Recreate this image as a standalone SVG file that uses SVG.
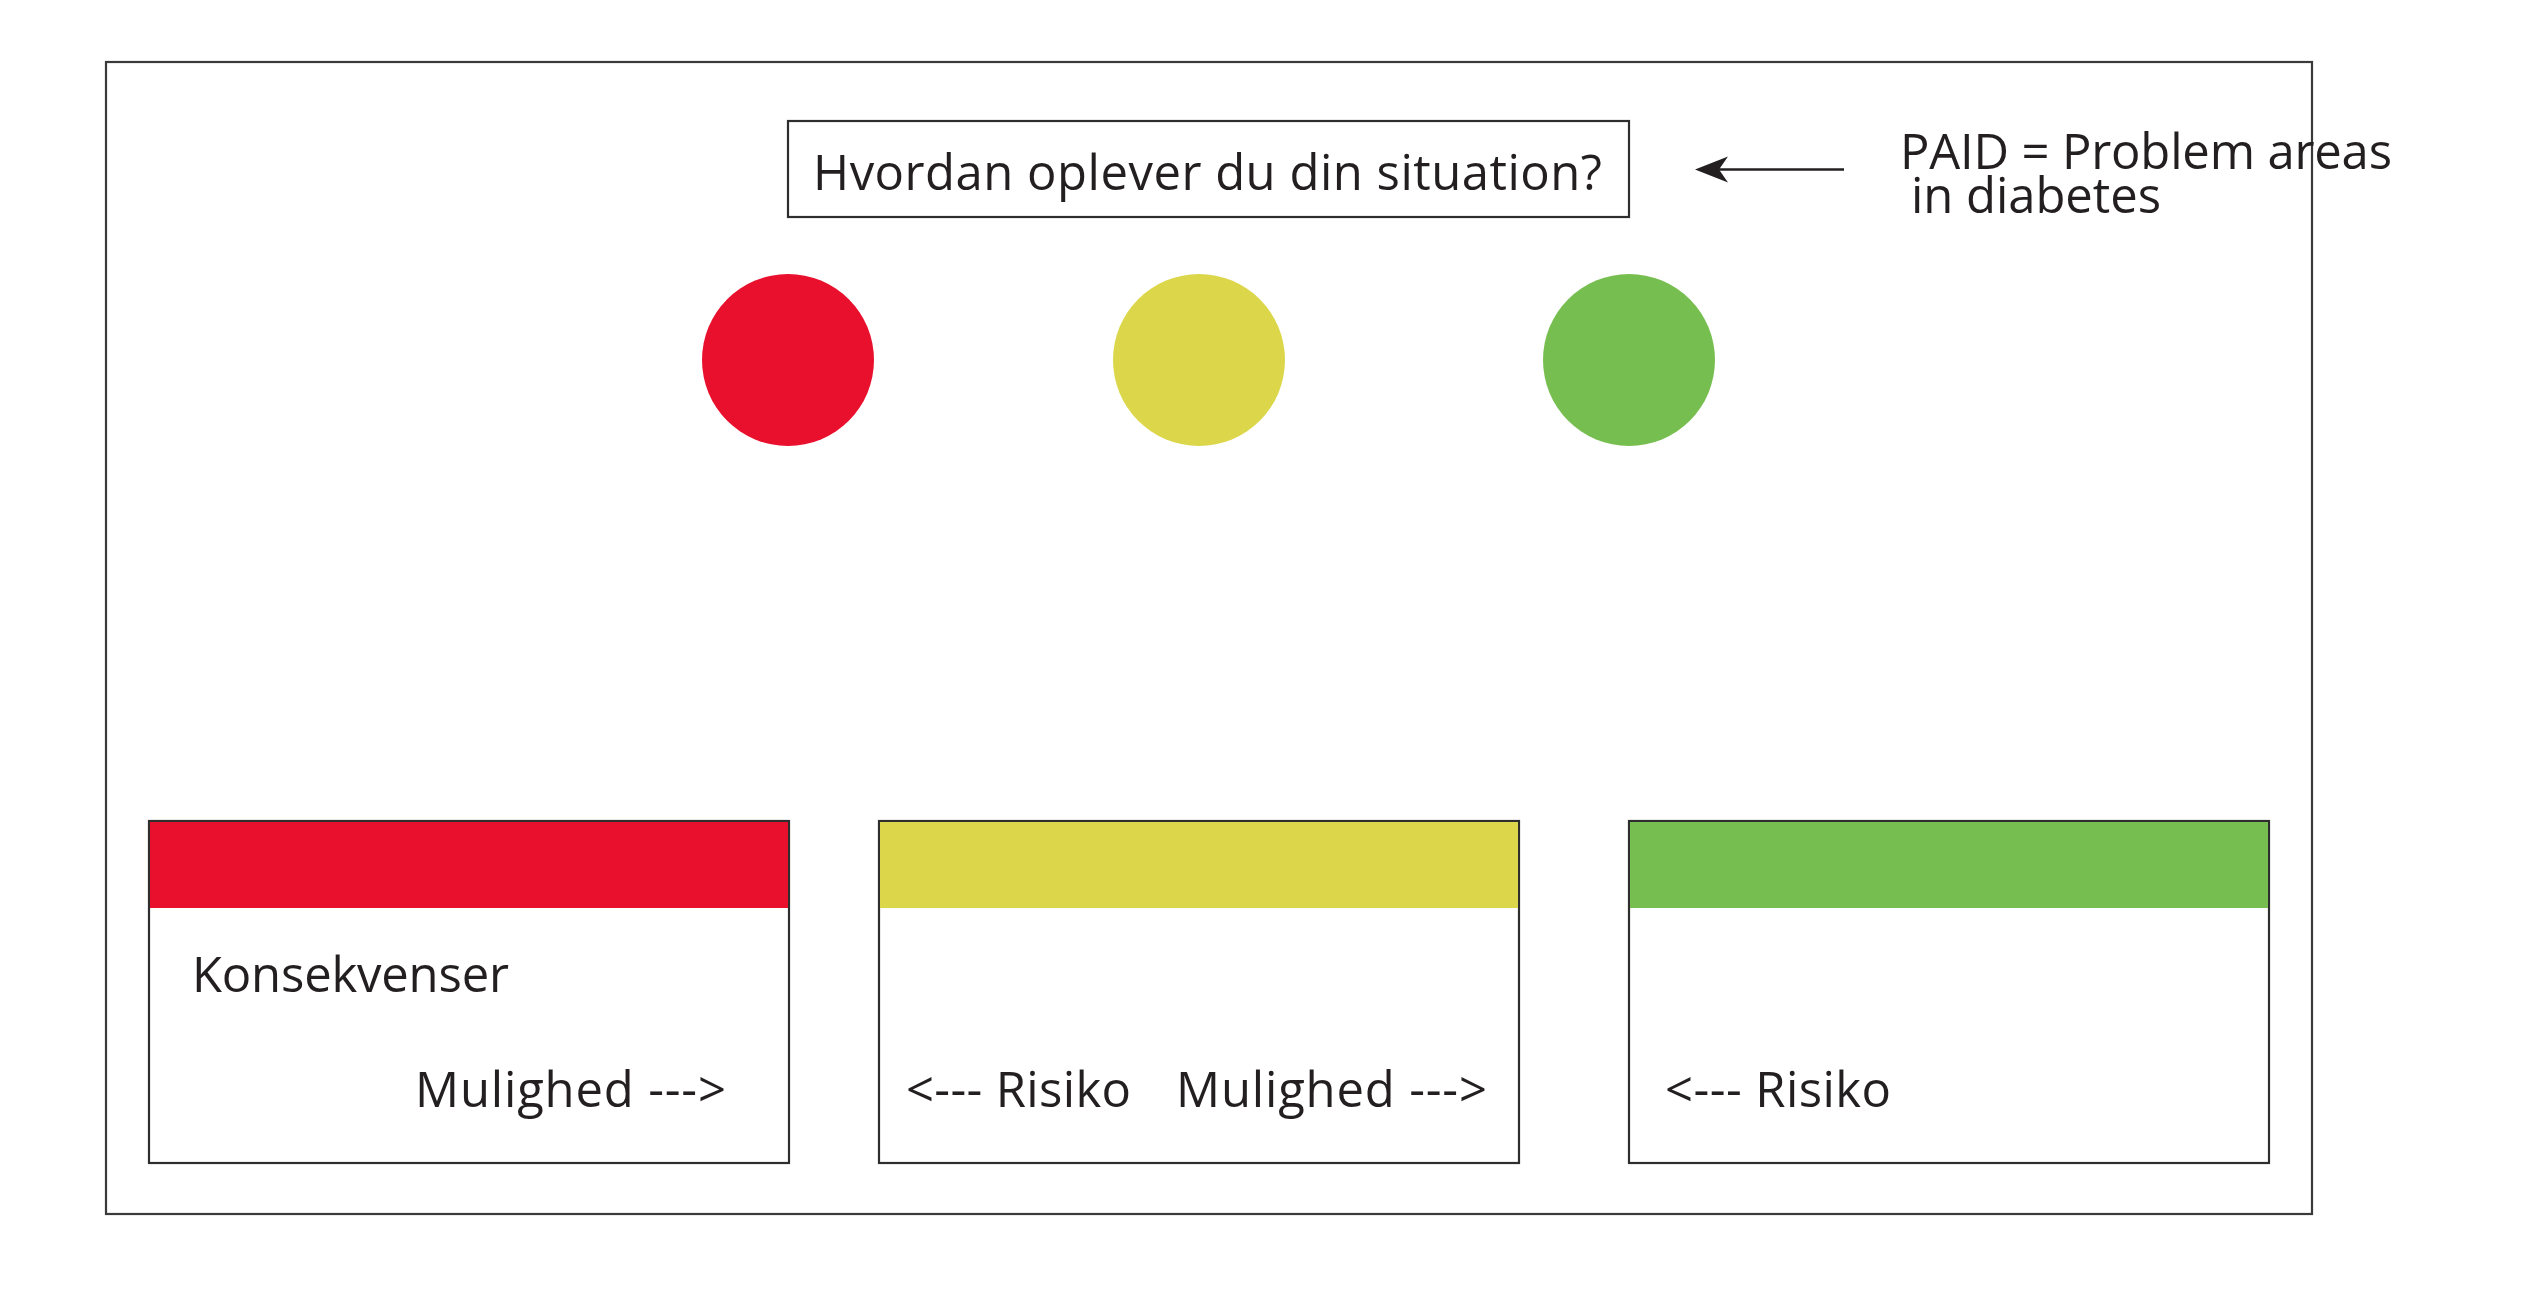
<svg xmlns="http://www.w3.org/2000/svg" width="2532" height="1312" viewBox="0 0 2532 1312">
  <style>
    .frame { fill: #ffffff; stroke: #3a3a3a; stroke-width: 2.2; }
    .box { fill: #ffffff; stroke: #2e2e2e; stroke-width: 2.2; }
    .txt { font-family: "Open Sans", "Noto Sans", "DejaVu Sans", sans-serif; fill: #231f20; font-size: 49px; }
    .red { fill: #e9102d; }
    .yellow { fill: #dcd74a; }
    .green { fill: #77be51; }
    .conn { stroke: #231f20; stroke-width: 2.4; fill: none; }
  </style>
  <defs>
    <marker id="head" markerUnits="userSpaceOnUse" viewBox="0 0 34 26" refX="1" refY="13" markerWidth="34" markerHeight="26" orient="auto-start-reverse">
      <path d="M0,13 L33,0 L24,13 L33,26 Z" fill="#231f20"/>
    </marker>
  </defs>
  <rect width="2532" height="1312" fill="#ffffff"/>
  <g id="frame">
    <rect class="frame" x="106" y="62" width="2206" height="1152"/>
  </g>
  <g id="question">
    <rect class="box" x="788" y="121" width="841" height="96"/>
    <text class="txt" x="813" y="190" font-size="51" textLength="789">Hvordan oplever du din situation?</text>
  </g>
  <g id="paid-note">
    <text class="txt" x="1900" y="169" textLength="492">PAID = Problem areas</text>
    <text class="txt" x="1911" y="213" textLength="250">in diabetes</text>
  </g>
  <g id="circle-red">
    <circle class="red" cx="788" cy="360" r="86"/>
  </g>
  <g id="circle-yellow">
    <circle class="yellow" cx="1199" cy="360" r="86"/>
  </g>
  <g id="circle-green">
    <circle class="green" cx="1629" cy="360" r="86"/>
  </g>
  <g id="box-red">
    <rect class="box" x="149" y="821" width="640" height="342"/>
    <rect class="red" x="150" y="822" width="638" height="86"/>
    <text class="txt" x="192" y="992" textLength="317">Konsekvenser</text>
    <text class="txt" x="415" y="1107" textLength="311">Mulighed ---&gt;</text>
  </g>
  <g id="box-yellow">
    <rect class="box" x="879" y="821" width="640" height="342"/>
    <rect class="yellow" x="880" y="822" width="638" height="86"/>
    <text class="txt" x="906" y="1107" textLength="225">&lt;--- Risiko</text>
    <text class="txt" x="1176" y="1107" textLength="311">Mulighed ---&gt;</text>
  </g>
  <g id="box-green">
    <rect class="box" x="1629" y="821" width="640" height="342"/>
    <rect class="green" x="1630" y="822" width="638" height="86"/>
    <text class="txt" x="1665" y="1107" textLength="226">&lt;--- Risiko</text>
  </g>
  <g id="connectors">
    <line class="conn" x1="1844" y1="169.5" x2="1712" y2="169.5"/>
    <path d="M1695,169.5 L1728,156.5 L1719,169.5 L1728,182.5 Z" fill="#231f20"/>
  </g>
</svg>
